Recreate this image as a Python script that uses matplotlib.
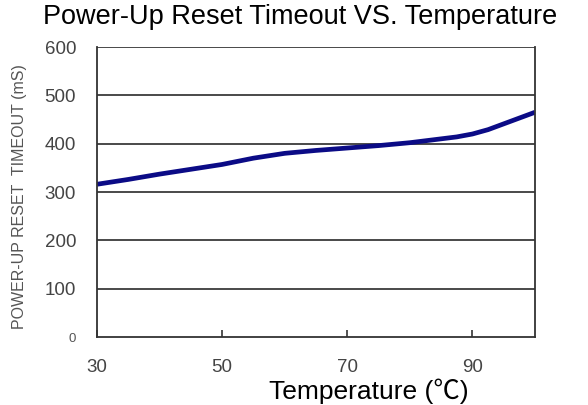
import matplotlib
matplotlib.use('Agg')
import matplotlib.pyplot as plt

# data
temp_c = [30, 35, 40, 45, 50, 55, 60, 65, 70, 75, 80, 85, 87.5, 90, 92.5, 95, 97.5, 100]
timeout_ms = [316, 326, 337, 347, 357, 370, 380, 386, 391, 396, 402, 410, 414, 420, 429, 441, 453, 465]
x_ticks = [30, 50, 70, 90]
y_ticks = [0, 100, 200, 300, 400, 500, 600]

plt.rcParams['font.family'] = ['Liberation Sans', 'Noto Sans CJK SC', 'DejaVu Sans']

fig = plt.figure(figsize=(5.88, 4.05), dpi=100)
ax = fig.add_axes([97/588, 1 - 337/405, (535 - 97)/588, (337 - 47)/405])

ax.plot(temp_c, timeout_ms, color='#0b0b86', lw=3.4, solid_capstyle='butt')

ax.set_xlim(30, 100)
ax.set_ylim(0, 600)
ax.set_xticks(x_ticks)
ax.set_yticks(y_ticks)
ax.set_xticklabels([str(t) for t in x_ticks])
ax.set_yticklabels([str(t) for t in y_ticks])

# horizontal grid
for v in y_ticks[1:]:
    ax.axhline(v, color='#3a3a3a', lw=1.3, zorder=1)

for side in ['left', 'bottom', 'right']:
    ax.spines[side].set_color('#333333')
    ax.spines[side].set_linewidth(1.3)
ax.spines['top'].set_visible(False)

ax.tick_params(axis='x', direction='in', length=5, width=1.2, color='#333333',
               pad=16, labelsize=13.5, labelcolor='#444444')
ax.tick_params(axis='y', length=0, pad=15, labelsize=13.5, labelcolor='#444444')
# the zero label is small in the reference
lbl0 = ax.get_yticklabels()[0]
lbl0.set_fontsize(9.5)
lbl0.set_color('#555555')

fig.text(0.51, 0.958, 'Power-Up Reset Timeout VS. Temperature',
         ha='center', va='center', fontsize=19.5, color='black')
fig.text(0.628, 0.033, 'Temperature (\u2103)', ha='center', va='center',
         fontsize=19, color='black')
fig.text(0.034, 0.514, 'POWER-UP RESET  TIMEOUT (mS)', rotation=90,
         ha='center', va='center', fontsize=11.5, color='#555555')

fig.savefig('out.png', dpi=100)
